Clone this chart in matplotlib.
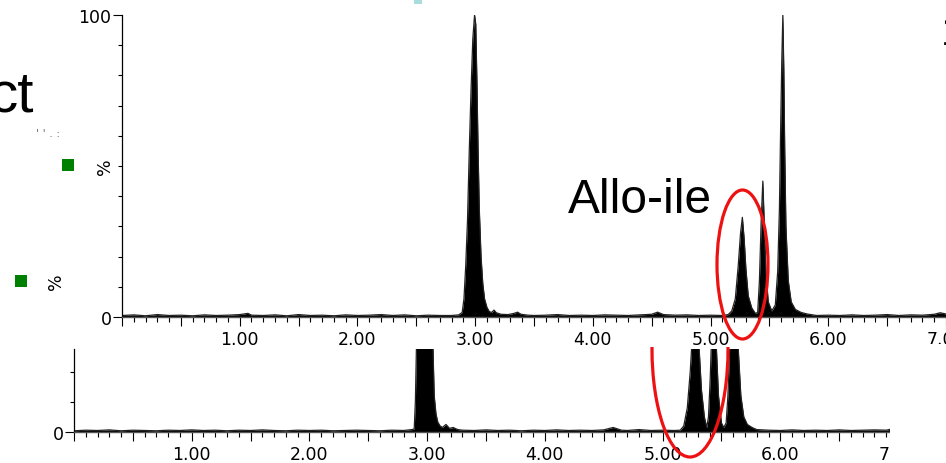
import matplotlib
matplotlib.use("Agg")
import matplotlib.pyplot as plt
from matplotlib.patches import Ellipse, Rectangle
from matplotlib.ticker import MultipleLocator, FuncFormatter, FixedLocator
from matplotlib.transforms import Bbox, TransformedBbox

W, H = 946, 464

# upper trace: retention time (min) and relative intensity (%)
top_time = [0.0, 0.1, 0.2, 0.3, 0.4, 0.5, 0.6, 0.7, 0.8, 0.9, 1.0, 1.07, 1.1, 1.2, 1.3,
            1.4, 1.5, 1.6, 1.7, 1.8, 1.9, 2.0, 2.1, 2.2, 2.3, 2.4, 2.5, 2.6, 2.7, 2.8,
            2.86, 2.89, 2.905, 2.92, 2.935, 2.95, 2.965, 2.98, 2.995, 3.005, 3.015, 3.025,
            3.035, 3.05, 3.065, 3.08, 3.10, 3.12, 3.14, 3.16, 3.18, 3.22, 3.28, 3.33, 3.36,
            3.39, 3.45, 3.5, 3.6, 3.7, 3.8, 3.9, 4.0, 4.1, 4.2, 4.3, 4.4, 4.5, 4.55, 4.6,
            4.7, 4.8, 4.9, 5.0, 5.10, 5.15, 5.18, 5.21, 5.235, 5.255, 5.27, 5.285, 5.30,
            5.32, 5.35, 5.38, 5.40, 5.415, 5.43, 5.444, 5.455, 5.47, 5.49, 5.52, 5.55,
            5.57, 5.585, 5.595, 5.605, 5.614, 5.622, 5.63, 5.64, 5.66, 5.685, 5.72, 5.77,
            5.82, 5.9, 6.0, 6.1, 6.2, 6.3, 6.4, 6.5, 6.6, 6.7, 6.8, 6.9, 6.95, 7.0]
top_pct = [0.5, 0.7, 0.4, 0.8, 0.5, 0.6, 0.4, 0.7, 0.5, 0.6, 0.8, 1.2, 0.6, 0.5, 0.7,
           0.4, 0.8, 0.5, 0.6, 0.4, 0.7, 0.5, 0.6, 0.8, 0.5, 0.7, 0.4, 0.6, 0.5, 0.5,
           0.7, 1.5, 6, 17, 32, 55, 75, 92, 100, 97, 78, 55,
           36, 20, 11, 6, 3.2, 1.8, 1.5, 2.3, 1.4, 0.9, 0.8, 1.2, 1.6,
           0.9, 0.6, 0.5, 0.6, 0.8, 0.5, 0.6, 0.5, 0.7, 0.6, 0.5, 0.7, 0.9, 1.6, 0.8,
           0.6, 0.7, 0.5, 0.6, 0.5, 0.8, 2, 6, 17, 28, 33, 26, 16,
           7, 3, 1.2, 1.5, 12, 32, 45, 32, 15, 5, 2, 4,
           15, 36, 62, 85, 100, 82, 55, 30, 12, 5, 2.5, 1.5,
           1.0, 0.5, 0.6, 0.5, 0.7, 0.5, 0.6, 0.8, 0.5, 0.7, 0.6, 0.9, 1.4, 1.0]

# lower trace (shown zoomed, peaks run off the top)
bot_time = [0.0, 0.1, 0.2, 0.3, 0.4, 0.5, 0.6, 0.7, 0.8, 0.9, 1.0, 1.1, 1.2, 1.3, 1.4,
            1.5, 1.6, 1.7, 1.8, 1.9, 2.0, 2.1, 2.2, 2.3, 2.4, 2.5, 2.6, 2.7, 2.8, 2.87,
            2.89, 2.90, 2.91, 2.925, 2.95, 2.98, 3.00, 3.02, 3.04, 3.05, 3.06, 3.075,
            3.09, 3.11, 3.13, 3.16, 3.19, 3.22, 3.26, 3.3, 3.4, 3.5, 3.6, 3.7, 3.8, 3.9,
            4.0, 4.1, 4.2, 4.3, 4.4, 4.5, 4.58, 4.65, 4.7, 4.8, 4.9, 5.0, 5.1, 5.15,
            5.18, 5.21, 5.235, 5.25, 5.28, 5.31, 5.33, 5.355, 5.375, 5.39, 5.405, 5.415,
            5.435, 5.458, 5.475, 5.50, 5.52, 5.54, 5.555, 5.57, 5.61, 5.645, 5.665, 5.69,
            5.72, 5.76, 5.80, 5.9, 6.0, 6.1, 6.2, 6.3, 6.4, 6.5, 6.6, 6.7, 6.8, 6.9,
            6.97, 7.0]
bot_pct = [0.4, 0.6, 0.5, 0.7, 0.4, 0.6, 0.5, 0.4, 0.6, 0.5, 0.7, 0.5, 0.6, 0.4, 0.6,
           0.5, 0.7, 0.5, 0.4, 0.6, 0.5, 0.6, 0.4, 0.5, 0.6, 0.5, 0.4, 0.6, 0.5, 0.8,
           1, 10, 30, 45, 75, 100, 100, 80, 45, 27, 12, 6,
           3.3, 2, 1.5, 2.5, 1.2, 1.5, 0.8, 0.6, 0.5, 0.7, 0.5, 0.6, 0.4, 0.6,
           0.5, 0.7, 0.5, 0.6, 0.5, 0.7, 1.5, 0.6, 0.5, 0.8, 0.5, 0.6, 0.5, 0.6,
           2, 8, 20, 30, 55, 28, 14, 5, 1.5, 5, 18, 30,
           50, 27, 12, 3, 1.5, 3, 12, 28, 60, 26, 12, 5,
           2.5, 1.5, 0.8, 0.6, 0.5, 0.7, 0.5, 0.6, 0.5, 0.7, 0.5, 0.6, 0.7, 0.6,
           1.2, 0.8]

x_major = 0.5
x_minor = 0.1
top_ymax = 100
bot_ymax = 27.5

plt.rcParams['font.family'] = ['DejaVu Sans']
fig = plt.figure(figsize=(W / 100, H / 100), dpi=100)


def box(left, top, right, bottom):
    return [left / W, 1 - bottom / H, (right - left) / W, (bottom - top) / H]


def time_label(v, pos):
    if abs(v - round(v)) < 1e-6 and round(v) > 0:
        return "%.2f" % v
    return ""


def trace_axes(rect, t, y, ymax):
    ax = fig.add_axes(rect)
    ax.fill_between(t, 0, y, color='black', lw=0)
    ax.plot(t, y, color='#222222', lw=0.9)
    ax.set_xlim(0, 7.0)
    ax.set_ylim(0, ymax)
    for s in ['top', 'right']:
        ax.spines[s].set_visible(False)
    ax.spines['left'].set_linewidth(0.9)
    ax.spines['bottom'].set_linewidth(1.0)
    ax.spines['bottom'].set_color('#555555')
    ax.xaxis.set_major_locator(MultipleLocator(x_major))
    ax.xaxis.set_minor_locator(MultipleLocator(x_minor))
    ax.xaxis.set_major_formatter(FuncFormatter(time_label))
    ax.tick_params(axis='x', which='major', length=6.5, width=0.8, pad=3, labelsize=12.5)
    ax.tick_params(axis='x', which='minor', length=3.6, width=0.8)
    ax.tick_params(axis='y', which='major', length=6.5, width=0.8, pad=1, labelsize=12.5)
    ax.tick_params(axis='y', which='minor', length=3.2, width=0.8)
    return ax


ax_top = trace_axes(box(122, 16, 946, 318), top_time, top_pct, top_ymax)
ax_top.yaxis.set_major_locator(FixedLocator([0, 100]))
ax_top.yaxis.set_minor_locator(MultipleLocator(10))
ax_top.set_yticklabels(['0', '100'])

ax_bot = trace_axes(box(74, 350, 898, 433), bot_time, bot_pct, bot_ymax)
ax_bot.yaxis.set_major_locator(FixedLocator([0]))
ax_bot.yaxis.set_minor_locator(FixedLocator([10, 20]))
ax_bot.set_yticklabels(['0'])

# lower panel is cut off on the right
fig.add_artist(Rectangle((890 / W, 0), (W - 890) / W, (H - 345) / H,
                         transform=fig.transFigure, fc='white', ec='none', zorder=5))

# axis titles and leftover fragments of the slide
fig.text(105 / W, 1 - 167 / H, '%', rotation=90, fontsize=12.5, ha='center', va='center')
fig.text(56 / W, 1 - 282 / H, '%', rotation=90, fontsize=12.5, ha='center', va='center')
fig.text(34 / W, 1 - 111 / H, 'ct', fontsize=42, family='Liberation Sans',
         ha='right', va='baseline')
fig.text(36 / W, 1 - 137 / H, "' ' . :", fontsize=8, color='#666666',
         ha='left', va='baseline')
fig.text(941 / W, 1 - 14 / H, '1', fontsize=30, family='Liberation Sans',
         ha='left', va='top')
fig.add_artist(Rectangle((62 / W, 1 - 172 / H), 12 / W, 12 / H,
                         transform=fig.transFigure, fc='#008000', ec='none'))
fig.add_artist(Rectangle((15 / W, 1 - 288 / H), 12 / W, 12 / H,
                         transform=fig.transFigure, fc='#008000', ec='none'))
fig.add_artist(Rectangle((414 / W, 1 - 5 / H), 8 / W, 4 / H,
                         transform=fig.transFigure, fc='#a9dcdc', ec='none'))

fig.text(568 / W, 1 - 213 / H, 'Allo-ile', fontsize=34.5, family='Liberation Sans',
         ha='left', va='baseline', zorder=6)

e_top = Ellipse((742.5 / W, 1 - 265.5 / H), 51 / W, 149 / H, transform=fig.transFigure,
                fill=False, ec='#ee1111', lw=2.3, zorder=7)
fig.add_artist(e_top)
e_bot = Ellipse((690 / W, 1 - 350 / H), 76 / W, 216 / H, transform=fig.transFigure,
                fill=False, ec='#ee1111', lw=2.3, zorder=7)
fig.add_artist(e_bot)
e_bot.set_clip_on(True)
e_bot.set_clip_box(TransformedBbox(Bbox.from_extents(0, 0, 1, 1 - 348 / H), fig.transFigure))

fig.savefig('out.png', dpi=100)
